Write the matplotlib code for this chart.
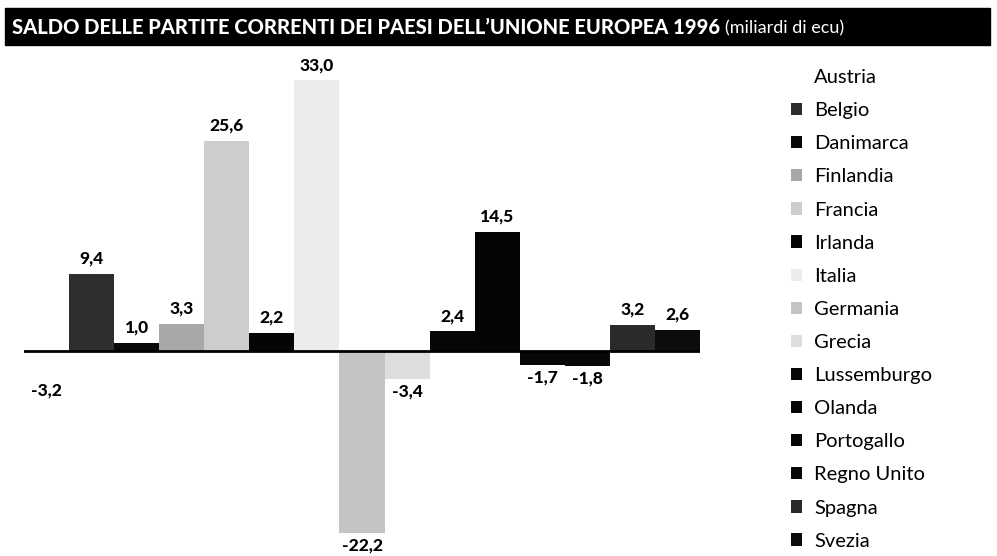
import matplotlib.pyplot as plt
from matplotlib.patches import Rectangle

paesi = ["Austria", "Belgio", "Danimarca", "Finlandia", "Francia", "Irlanda",
         "Italia", "Germania", "Grecia", "Lussemburgo", "Olanda", "Portogallo",
         "Regno Unito", "Spagna", "Svezia"]
saldo = [-3.2, 9.4, 1.0, 3.3, 25.6, 2.2, 33.0, -22.2, -3.4, 2.4, 14.5,
         -1.7, -1.8, 3.2, 2.6]
colori = ["#ffffff", "#2e2e2e", "#080808", "#a8a8a8", "#cdcdcd", "#050505",
          "#ececec", "#c4c4c4", "#dedede", "#060606", "#050505", "#070707",
          "#080808", "#2a2a2a", "#0c0c0c"]

W, H = 997, 556
fig = plt.figure(figsize=(W / 100, H / 100), dpi=100)
plt.rcParams['font.family'] = ['Lato', 'DejaVu Sans']

# barra del titolo
fig.patches.append(Rectangle((5 / W, 1 - 45 / H), 985 / W, 37 / H,
                             transform=fig.transFigure, color="black"))
t = fig.text(12 / W, 1 - 27 / H,
             "SALDO DELLE PARTITE CORRENTI DEI PAESI DELL\u2019UNIONE EUROPEA 1996",
             color="white", fontsize=14.5, fontweight="black", va="center")
fig.canvas.draw()
bb = t.get_window_extent()
fig.text(bb.x1 / W + 5 / W, 1 - 28 / H, "(miliardi di ecu)", color="white",
         fontsize=13, fontweight="normal", va="center")

ax = fig.add_axes([24 / W, 0, 676 / W, 1 - 60 / H])
x = list(range(len(paesi)))
bars = ax.bar(x, saldo, width=1.0, color=colori, label=paesi)
ax.set_xlim(-0.5, 14.5)
ax.set_ylim(-25.0, 35.5)
ax.axhline(0, color="black", lw=2, zorder=3)
ax.axis("off")

for xi, v in zip(x, saldo):
    lab = f"{v:.1f}".replace(".", ",")
    if v >= 0:
        ax.text(xi, v + 0.9, lab, ha="center", va="bottom", fontsize=12.5,
                fontweight="black")
    else:
        ax.text(xi, v - 0.6, lab, ha="center", va="top", fontsize=12.5,
                fontweight="black")

leg = fig.legend(bars, paesi, loc="upper left",
                 bbox_to_anchor=(773 / W, 1 - 51 / H), frameon=False,
                 fontsize=14.5, handlelength=0.55, handleheight=0.55,
                 handletextpad=0.6, labelspacing=0.8)

fig.savefig("out.png", dpi=100)
